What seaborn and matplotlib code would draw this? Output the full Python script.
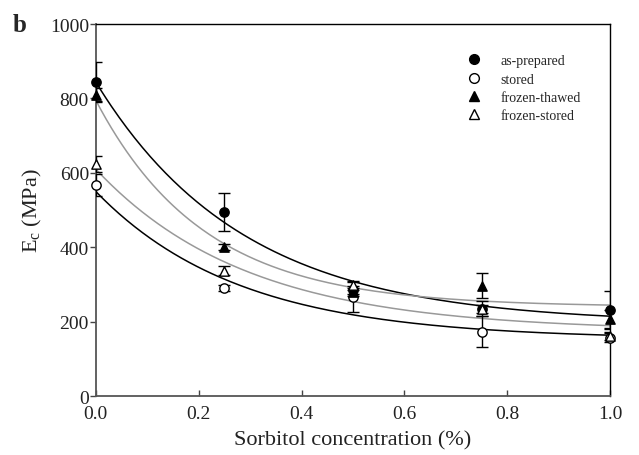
import numpy as np
import pandas as pd
import matplotlib
matplotlib.use("Agg")
import matplotlib.pyplot as plt
import seaborn as sns
from matplotlib.lines import Line2D

# ---- data ----
conc = [0.0, 0.25, 0.5, 0.75, 1.0]
series_names = ["as-prepared", "stored", "frozen-thawed", "frozen-stored"]
as_prepared = [844, 495, 285, 235, 232]
stored = [567, 291, 266, 173, 157]
frozen_thawed = [810, 402, 280, 297, 207]
frozen_stored = [624, 337, 298, 234, 162]
err_as_prepared = [54, 52, 10, 20, 51]
err_stored = [30, 8, 40, 42, 12]
err_frozen_thawed = [17, 8, 10, 33, 25]
err_frozen_stored = [22, 12, 12, 10, 10]
# exponential-decay fit parameters (plateau, amplitude, rate)
fit_plateau = [195, 153, 240, 175]
fit_amplitude = [649, 397, 555, 435]
fit_rate = [3.485, 3.6, 4.75, 3.4]
x_ticks = [0.0, 0.2, 0.4, 0.6, 0.8, 1.0]
y_ticks = [0, 200, 400, 600, 800, 1000]

values = [as_prepared, stored, frozen_thawed, frozen_stored]
errors = [err_as_prepared, err_stored, err_frozen_thawed, err_frozen_stored]

sns.set_theme(style="ticks")
plt.rcParams["font.family"] = ["Liberation Serif", "DejaVu Serif"]
plt.rcParams["mathtext.fontset"] = "custom"
plt.rcParams["mathtext.rm"] = "Liberation Serif"
plt.rcParams["mathtext.it"] = "Liberation Serif:italic"

fig = plt.figure(figsize=(6.39, 4.56), dpi=100)
ax = fig.add_axes([0.150, 0.129, 0.805, 0.816])

# fitted curves
curve_colors = ["black", "black", "#999999", "#999999"]
xs = np.linspace(0, 1, 200)
rows = []
for name, p, a, k in zip(series_names, fit_plateau, fit_amplitude, fit_rate):
    for xv in xs:
        rows.append({"x": xv, "y": p + a * np.exp(-k * xv), "series": name})
curves = pd.DataFrame(rows)
sns.lineplot(data=curves, x="x", y="y", hue="series", palette=dict(zip(series_names, curve_colors)),
             legend=False, ax=ax, linewidth=1.1, zorder=2)

# data points with error bars
df = pd.DataFrame({
    "conc": np.tile(conc, len(series_names)),
    "Ec": np.concatenate(values),
    "err": np.concatenate(errors),
    "series": np.repeat(series_names, len(conc)),
})
markers = {"as-prepared": "o", "stored": "o", "frozen-thawed": "^", "frozen-stored": "^"}
faces = {"as-prepared": "black", "stored": "white", "frozen-thawed": "black", "frozen-stored": "white"}
for name in series_names:
    sub = df[df.series == name]
    ax.errorbar(sub.conc, sub.Ec, yerr=sub.err, fmt="none", ecolor="black",
                elinewidth=1.0, capsize=4.5, capthick=1.0, zorder=3)
    sns.scatterplot(data=sub, x="conc", y="Ec", marker=markers[name], color=faces[name],
                    edgecolor="black", linewidth=1.0, s=45, ax=ax, zorder=4, legend=False,
                    clip_on=False)

ax.set_xlim(0, 1.0)
ax.set_ylim(0, 1000)
ax.set_xticks(x_ticks)
ax.set_xticklabels([f"{t:.1f}" for t in x_ticks])
ax.set_yticks(y_ticks)
ax.set_yticklabels([str(t) for t in y_ticks])
ax.tick_params(axis="x", direction="in", length=4, width=1, labelsize=14, pad=6, color="#444444")
ax.tick_params(axis="y", direction="out", length=4, width=1, labelsize=14, pad=1, color="#444444")
for t in ax.get_xticklabels() + ax.get_yticklabels():
    t.set_color("#222222")
for side in ["left", "bottom"]:
    ax.spines[side].set_color("#555555")
    ax.spines[side].set_linewidth(1.3)
for side in ["top", "right"]:
    ax.spines[side].set_color("black")
    ax.spines[side].set_linewidth(1.0)
    ax.spines[side].set_visible(True)

ax.set_xlabel("Sorbitol concentration (%)", fontsize=16, labelpad=6, color="#222222")
ax.set_ylabel("E$_\\mathrm{c}$ (MPa)", fontsize=16, labelpad=4, color="#222222")

handles = [Line2D([], [], linestyle="none", marker=markers[n], markerfacecolor=faces[n],
                  markeredgecolor="black", markersize=7) for n in series_names]
ax.legend(handles, series_names, loc="upper left", bbox_to_anchor=(0.69, 0.945), frameon=False,
          fontsize=10, handletextpad=0.9, labelspacing=0.38, borderpad=0.2)

fig.text(0.02, 0.945, "b", fontsize=18, fontweight="bold", ha="left", va="center")

fig.savefig("out.png", dpi=100)
